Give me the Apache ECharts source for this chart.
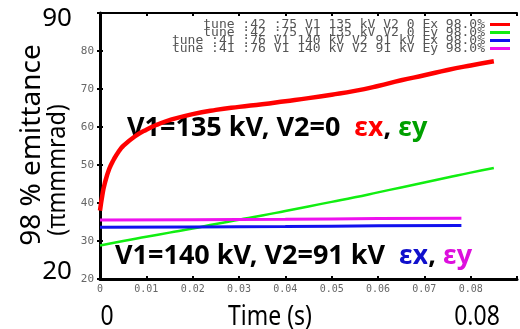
<!DOCTYPE html>
<html>
<head>
<meta charset="utf-8">
<script src="https://cdn.jsdelivr.net/npm/echarts@6/dist/echarts.min.js"></script>
<style>
  html, body { margin: 0; padding: 0; background: #fff; }
  #chart { width: 520px; height: 329px; }
</style>
</head>
<body>
<div id="chart"></div>
<script>
// time (s) and 98% emittance
const redTime = [0, 0.0005, 0.001, 0.002, 0.003, 0.004, 0.005, 0.0075, 0.01, 0.0125, 0.015, 0.02, 0.025, 0.03, 0.035, 0.04, 0.045, 0.05, 0.055, 0.06, 0.065, 0.07, 0.075, 0.08, 0.085]
const redEmit = [38, 42, 45, 49, 51.5, 53.5, 55, 57.5, 59.3, 60.7, 61.8, 63.4, 64.5, 65.3, 66, 66.8, 67.6, 68.5, 69.5, 70.8, 72.3, 73.6, 75, 76.2, 77.3]

const greenTime = [0, 0.005, 0.01, 0.015, 0.02, 0.025, 0.03, 0.035, 0.04, 0.045, 0.05, 0.055, 0.06, 0.065, 0.07, 0.075, 0.08, 0.085]
const greenEmit = [28.8, 30.0, 31.1, 32.2, 33.3, 34.5, 35.6, 36.7, 37.9, 39.1, 40.3, 41.5, 42.8, 44.1, 45.4, 46.7, 48.0, 49.2]

const blueTime = [0, 0.02, 0.04, 0.06, 0.078]
const blueEmit = [33.6, 33.7, 33.8, 34.0, 34.1]

const magentaTime = [0, 0.02, 0.04, 0.06, 0.078]
const magentaEmit = [35.5, 35.6, 35.7, 35.9, 36.0]

const seriesNames = [
  'tune :42 :75 V1 135 kV V2 0 Ex 98.0%',
  'tune :42 :75 V1 135 kV V2 0 Ey 98.0%',
  'tune :41 :76 V1 140 kV V2 91 kV Ex 98.0%',
  'tune :41 :76 V1 140 kV V2 91 kV Ey 98.0%',
]

const xTicks = [0, 0.01, 0.02, 0.03, 0.04, 0.05, 0.06, 0.07, 0.08]
const yTicks = [20, 30, 40, 50, 60, 70, 80]

function pairs(t, v) {
  return t.map((x, i) => [x, v[i]])
}

const mono = 'DejaVu Sans Mono'

let mychart = echarts.init(document.getElementById('chart'))

// bold annotation text, white edge like the original slide
function rich(color) {
  return { font: 'bold 27px "Noto Sans"', fill: color, textBorderColor: '#fff', textBorderWidth: 2 }
}

let option = {
  animation: false,
  grid: { left: 100, right: 1, top: 13, bottom: 50 },
  legend: {
    orient: 'vertical',
    right: 10,
    top: 18,
    padding: 0,
    align: 'right',
    itemGap: -5,
    itemWidth: 20,
    itemHeight: 3,
    icon: 'rect',
    textStyle: { fontFamily: mono, fontSize: 13, color: '#555' },
    data: seriesNames,
  },
  xAxis: [
    {
      type: 'value',
      min: 0,
      max: 0.09,
      interval: 0.01,
      axisLine: { lineStyle: { color: '#000', width: 3 } },
      axisTick: { inside: true, length: 3, lineStyle: { color: '#000', width: 2 } },
      axisLabel: {
        margin: 5,
        fontFamily: mono,
        fontSize: 10,
        color: '#666',
        formatter: (v) => {
          let hit = xTicks.find((t) => Math.abs(t - v) < 1e-6)
          if (hit === undefined) return ''
          return hit === 0 ? '0' : hit.toFixed(2)
        },
      },
      splitLine: { show: false },
    },
    {
      type: 'value',
      position: 'top',
      min: 0,
      max: 0.09,
      interval: 0.01,
      axisLine: { lineStyle: { color: '#000', width: 2 } },
      axisTick: { inside: true, length: 3, lineStyle: { color: '#000', width: 2 } },
      axisLabel: { show: false },
      splitLine: { show: false },
    },
  ],
  yAxis: [
    {
      type: 'value',
      min: 20,
      max: 90,
      interval: 10,
      axisLine: { show: true, lineStyle: { color: '#000', width: 3 } },
      axisTick: { show: true, inside: true, length: 3, lineStyle: { color: '#000', width: 2 } },
      axisLabel: {
        margin: 6,
        fontFamily: mono,
        fontSize: 11,
        color: '#666',
        formatter: (v) => (yTicks.indexOf(v) >= 0 ? String(v) : ''),
      },
      splitLine: { show: false },
    },
    {
      type: 'value',
      position: 'right',
      min: 20,
      max: 90,
      interval: 10,
      axisLine: { show: true, lineStyle: { color: '#000', width: 2 } },
      axisTick: { show: true, inside: true, length: 3, lineStyle: { color: '#000', width: 2 } },
      axisLabel: { show: false },
      splitLine: { show: false },
    },
  ],
  series: [
    {
      name: seriesNames[0],
      type: 'line',
      smooth: true,
      showSymbol: false,
      color: '#ff0000',
      lineStyle: { width: 4.5 },
      data: pairs(redTime, redEmit),
    },
    {
      name: seriesNames[1],
      type: 'line',
      smooth: true,
      showSymbol: false,
      color: '#11ee11',
      lineStyle: { width: 2.5 },
      data: pairs(greenTime, greenEmit),
    },
    {
      name: seriesNames[2],
      type: 'line',
      smooth: true,
      showSymbol: false,
      color: '#1111ee',
      lineStyle: { width: 3 },
      data: pairs(blueTime, blueEmit),
    },
    {
      name: seriesNames[3],
      type: 'line',
      smooth: true,
      showSymbol: false,
      color: '#ee11ee',
      lineStyle: { width: 3 },
      data: pairs(magentaTime, magentaEmit),
    },
  ],
  graphic: [
    { type: 'text', x: 57, y: 19, style: { text: '90', font: '26px "Noto Sans"', fill: '#000', align: 'center', verticalAlign: 'middle' } },
    { type: 'text', x: 57, y: 272, style: { text: '20', font: '26px "Noto Sans"', fill: '#000', align: 'center', verticalAlign: 'middle' } },
    { type: 'text', x: 107, y: 317, scaleX: 0.85, style: { text: '0', font: '27px "Noto Sans"', fill: '#000', align: 'center', verticalAlign: 'middle' } },
    { type: 'text', x: 270, y: 317, scaleX: 0.85, style: { text: 'Time (s)', font: '27px "Noto Sans"', fill: '#000', align: 'center', verticalAlign: 'middle' } },
    { type: 'text', x: 477, y: 317, scaleX: 0.85, style: { text: '0.08', font: '27px "Noto Sans"', fill: '#000', align: 'center', verticalAlign: 'middle' } },
    {
      type: 'text', x: 32, y: 145, rotation: Math.PI / 2,
      style: { text: '98 % emittance', font: '28px "Noto Sans"', fill: '#000', align: 'center', verticalAlign: 'middle' },
    },
    {
      type: 'text', x: 58, y: 170, rotation: Math.PI / 2, scaleX: 0.9,
      style: { text: '(πmmmrad)', font: '26px "Noto Sans"', fill: '#000', align: 'center', verticalAlign: 'middle' },
    },
    {
      type: 'text', x: 127, y: 128,
      style: {
        text: '{k|V1=135 kV, V2=0  }{r|εx}{k|, }{g|εy}',
        verticalAlign: 'middle',
        rich: { k: rich('#000'), r: rich('#ff0000'), g: rich('#00a000') },
      },
    },
    {
      type: 'text', x: 115, y: 256,
      style: {
        text: '{k|V1=140 kV, V2=91 kV  }{b|εx}{k|, }{m|εy}',
        verticalAlign: 'middle',
        rich: { k: rich('#000'), b: rich('#1010cc'), m: rich('#dd10dd') },
      },
    },
  ],
}

mychart.setOption(option)
</script>
</body>
</html>
